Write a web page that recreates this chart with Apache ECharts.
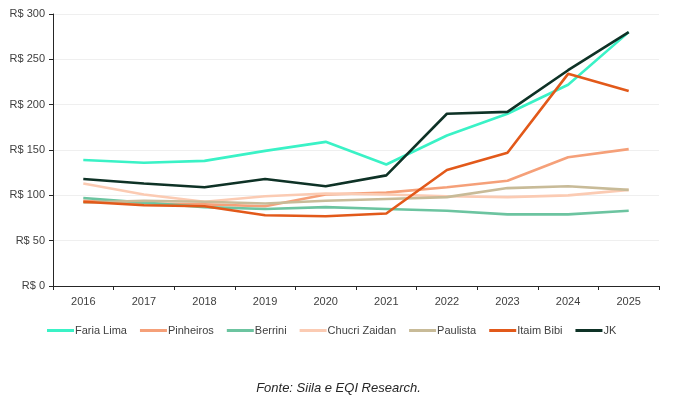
<!DOCTYPE html>
<html><head><meta charset="utf-8">
<script src="https://cdn.jsdelivr.net/npm/echarts@6/dist/echarts.min.js"></script>
<style>html,body{margin:0;padding:0;background:#fff}#c{width:677px;height:403px}</style>
</head><body><div id="c"></div>
<script>
const years = ['2016','2017','2018','2019','2020','2021','2022','2023','2024','2025'];
const fariaLima   = [139,136,138,149,159,134,166,190,222,280];
const pinheiros   = [94,91,90,88,101,103,109,116,142,151];
const berrini     = [97,92,87,85,87,85,83,79,79,83];
const chucriZaidan= [113,101,93,99,102,101,99,98,100,106];
const paulista    = [92,94,93,91,94,96,98,108,110,106];
const itaimBibi   = [93,89,88,78,77,80,128,147,234,215];
const jk          = [118,113,109,118,110,122,190,192,238,280];
const yTicks = [0,50,100,150,200,250,300];

const names = ['Faria Lima','Pinheiros','Berrini','Chucri Zaidan','Paulista','Itaim Bibi','JK'];
const datas = [fariaLima,pinheiros,berrini,chucriZaidan,paulista,itaimBibi,jk];
const colors = ['#3af2c6','#f5a079','#6cc4a0','#fbcbb3','#c8bb98','#e2591a','#0e3226'];
const font = '"Liberation Sans Narrow","Liberation Sans",Arial,sans-serif';

const chart = echarts.init(document.getElementById('c'));
chart.setOption({
  animation:false,
  color: colors,
  grid:{left:53,right:18,top:14,bottom:117},
  xAxis:{type:'category',data:years,boundaryGap:true,
    axisLine:{lineStyle:{color:'#262626',width:1}},
    axisTick:{show:true,length:4,lineStyle:{color:'#262626'}},
    axisLabel:{color:'#404040',fontSize:11,fontFamily:font,margin:10}},
  yAxis:{type:'value',min:yTicks[0],max:yTicks[yTicks.length-1],interval:50,
    axisLine:{show:true,lineStyle:{color:'#262626',width:1}},
    axisTick:{show:true,length:4,lineStyle:{color:'#262626'}},
    splitLine:{lineStyle:{color:'#efefef'}},
    axisLabel:{color:'#404040',fontSize:11,fontFamily:font,margin:8,
      formatter:v=>'R$ '+v}},
  legend:{bottom:62,left:42,itemWidth:27,itemHeight:3,itemGap:13,
    icon:'rect',
    textStyle:{color:'#404040',fontSize:11,fontFamily:font,padding:[0,0,0,-4]},
    data:names},
  graphic:[{type:'text',left:'center',top:382,
    style:{text:'Fonte: Siila e EQI Research.',font:'italic 13px "Liberation Sans",Arial,sans-serif',fill:'#262626'}}],
  series: names.map((n,i)=>({name:n,type:'line',data:datas[i],symbol:'none',
    lineStyle:{width:2.6,color:colors[i]},z:i+2}))
});
</script></body></html>
